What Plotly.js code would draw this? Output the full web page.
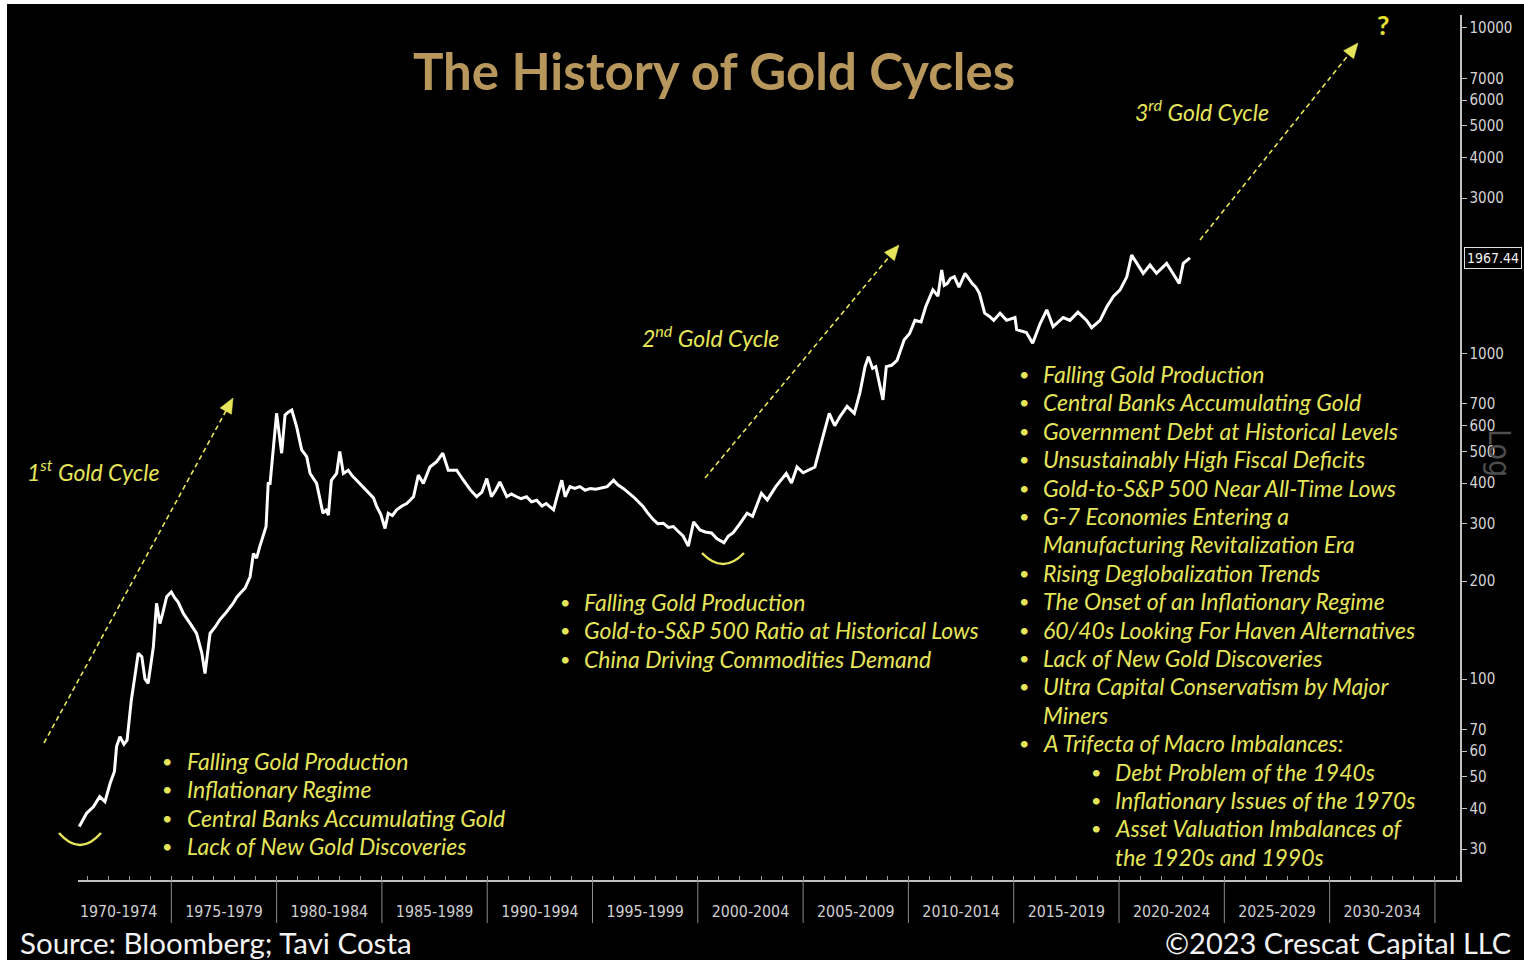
<!DOCTYPE html>
<html>
<head>
<meta charset="utf-8">
<script src="https://cdn.plot.ly/plotly-3.0.1.min.js"></script>
<style>
  html, body { margin: 0; padding: 0; background: #ffffff; width: 1524px; height: 960px; overflow: hidden; }
  #chart { position: absolute; left: 7px; top: 4px; width: 1517px; height: 956px; }
</style>
</head>
<body>
<div id="chart"></div>
<script>
// ---------------- DATA ----------------
const years = [
  1970.63, 1970.98, 1971.3, 1971.6, 1971.85, 1972.1, 1972.3, 1972.4, 1972.56, 1972.75, 1972.9,
  1973.1, 1973.3, 1973.43, 1973.6, 1973.75, 1973.9, 1974.15, 1974.3, 1974.46, 1974.6, 1974.78,
  1975.0, 1975.15, 1975.33, 1975.57, 1975.9, 1976.2, 1976.45, 1976.6, 1976.84, 1977.1, 1977.3,
  1977.6, 1977.94, 1978.1, 1978.26, 1978.5, 1978.74, 1978.9, 1979.05, 1979.2, 1979.5, 1979.6,
  1979.69, 1979.85, 1980.0, 1980.24, 1980.4, 1980.55, 1980.72, 1980.95, 1981.19, 1981.43, 1981.59,
  1981.9, 1982.2, 1982.35, 1982.46, 1982.6, 1982.85, 1983.0, 1983.17, 1983.4, 1983.6, 1983.8,
  1984.1, 1984.43, 1984.6, 1984.75, 1984.95, 1985.15, 1985.3, 1985.5, 1985.7, 1985.95, 1986.18,
  1986.5, 1986.73, 1986.97, 1987.28, 1987.6, 1987.89, 1988.15, 1988.55, 1988.87, 1989.2, 1989.5,
  1989.75, 1989.98, 1990.2, 1990.4, 1990.6, 1990.93, 1991.15, 1991.4, 1991.6, 1991.87, 1992.1,
  1992.35, 1992.6, 1992.8, 1993.15, 1993.35, 1993.54, 1993.7, 1993.93, 1994.15, 1994.4, 1994.65,
  1994.9, 1995.15, 1995.36, 1995.7, 1996.0, 1996.2, 1996.46, 1996.7, 1996.94, 1997.26, 1997.4,
  1997.6, 1997.9, 1998.1, 1998.36, 1998.6, 1998.84, 1999.05, 1999.3, 1999.55, 1999.8, 2000.1,
  2000.35, 2000.65, 2000.9, 2001.24, 2001.45, 2001.67, 2001.85, 2002.0, 2002.34, 2002.6, 2003.02,
  2003.3, 2003.7, 2004.2, 2004.45, 2004.71, 2005.0, 2005.23, 2005.56, 2005.9, 2006.24, 2006.5,
  2006.75, 2007.09, 2007.43, 2007.7, 2007.94, 2008.1, 2008.3, 2008.45, 2008.65, 2008.79, 2008.95,
  2009.2, 2009.46, 2009.8, 2010.05, 2010.31, 2010.6, 2010.82, 2011.16, 2011.4, 2011.58, 2011.7,
  2011.84, 2012.0, 2012.18, 2012.4, 2012.69, 2012.85, 2013.03, 2013.2, 2013.37, 2013.62, 2013.85,
  2014.05, 2014.35, 2014.66, 2015.06, 2015.14, 2015.6, 2015.9, 2016.25, 2016.57, 2016.87, 2017.35,
  2017.67, 2018.05, 2018.46, 2018.7, 2019.1, 2019.42, 2019.73, 2020.05, 2020.37, 2020.6, 2020.84,
  2021.15, 2021.47, 2021.78, 2022.26, 2022.57, 2022.86, 2023.05, 2023.37
];
const prices = [
  35.2, 38.7, 40.5, 43.5, 42, 47.9, 52, 62, 66.5, 63, 64.9,
  86, 105, 120, 117, 100, 97, 125.7, 170.9, 148, 160, 179,
  185, 178, 172, 159, 148, 138, 120, 104, 138, 145, 152,
  160, 171, 178, 183, 190, 206, 243, 235, 255, 294, 399,
  399, 517, 655, 494, 647, 660, 670, 596, 506, 482, 428,
  399, 323, 330, 319, 408, 428, 500, 428, 438, 420, 408,
  390, 372, 360, 339, 320, 290, 323, 318, 331, 340, 346,
  363, 423, 399, 448, 465, 494, 438, 438, 408, 381, 363,
  375, 413, 363, 380, 403, 363, 370, 363, 358, 363, 350,
  354, 340, 346, 331, 370, 408, 363, 390, 385, 390, 380,
  385, 383, 385, 390, 408, 395, 385, 375, 363, 346, 339,
  325, 308, 300, 301, 292, 294, 285, 275, 256, 304, 287,
  283, 281, 270, 262, 275, 281, 290, 300, 323, 316, 372,
  355, 390, 428, 400, 448, 430, 438, 448, 543, 655, 600,
  640, 688, 655, 760, 911, 978, 900, 911, 800, 720, 911,
  920, 953, 1102, 1150, 1264, 1250, 1392, 1568, 1500, 1805, 1620,
  1640, 1700, 1720, 1600, 1763, 1700, 1640, 1600, 1530, 1330, 1300,
  1264, 1330, 1264, 1290, 1184, 1160, 1075, 1234, 1362, 1210, 1290,
  1264, 1340, 1264, 1200, 1264, 1392, 1498, 1568, 1720, 2006, 1891,
  1763, 1870, 1763, 1891, 1763, 1640, 1891, 1967.44
];
const binStarts = [1970, 1975, 1980, 1985, 1990, 1995, 2000, 2005, 2010, 2015, 2020, 2025, 2030];
const binLabels = ["1970-1974", "1975-1979", "1980-1984", "1985-1989", "1990-1994", "1995-1999",
  "2000-2004", "2005-2009", "2010-2014", "2015-2019", "2020-2024", "2025-2029", "2030-2034"];
const yTickVals = [30, 40, 50, 60, 70, 100, 200, 300, 400, 500, 600, 700, 1000, 3000, 4000, 5000, 6000, 7000, 10000];

const titleText = "The History of Gold Cycles";
const cycleLabels = ["1<sup>st</sup> Gold Cycle", "2<sup>nd</sup> Gold Cycle", "3<sup>rd</sup> Gold Cycle"];
const cycle1Drivers = ["Falling Gold Production", "Inflationary Regime", "Central Banks Accumulating Gold", "Lack of New Gold Discoveries"];
const cycle2Drivers = ["Falling Gold Production", "Gold-to-S&P 500 Ratio at Historical Lows", "China Driving Commodities Demand"];
const cycle3Drivers = [
  "Falling Gold Production", "Central Banks Accumulating Gold", "Government Debt at Historical Levels",
  "Unsustainably High Fiscal Deficits", "Gold-to-S&P 500 Near All-Time Lows", "G-7 Economies Entering a",
  "Manufacturing Revitalization Era", "Rising Deglobalization Trends", "The Onset of an Inflationary Regime",
  "60/40s Looking For Haven Alternatives", "Lack of New Gold Discoveries", "Ultra Capital Conservatism by Major",
  "Miners", "A Trifecta of Macro Imbalances:", "Debt Problem of the 1940s", "Inflationary Issues of the 1970s",
  "Asset Valuation Imbalances of", "the 1920s and 1990s"
];
const cycle3Continuation = [6, 12, 17];   // wrapped lines (no bullet)
const cycle3SubItems = [14, 15, 16, 17];  // nested level
const sourceText = "Source: Bloomberg; Tavi Costa";
const copyrightText = "©2023 Crescat Capital LLC";

// ---------------- LAYOUT HELPERS ----------------
const DIV_X = 7, DIV_Y = 4, W = 1517, H = 956;
const ML = 71, MR = 64, MT = 11, MB = 80;
const PW = W - ML - MR, PH = H - MT - MB;
const px = x => (x - DIV_X - ML) / PW;
const py = y => 1 - (y - DIV_Y - MT) / PH;

const YEL = '#e6e55a';
const txtFont = { family: 'Lato, "Open Sans", sans-serif', size: 23, color: YEL, style: 'italic' };
const bulletFont = { family: 'Lato, "Open Sans", sans-serif', size: 18, color: YEL };

const annotations = [];
const shapes = [];

function addText(text, x, y, font, extra) {
  annotations.push(Object.assign({
    text: text, xref: 'paper', yref: 'paper', x: px(x), y: py(y),
    xanchor: 'left', yanchor: 'middle', showarrow: false, font: font
  }, extra || {}));
}

// bullet lists
const LS = 28.4;
cycle1Drivers.forEach((t, i) => {
  addText('•', 160, 761 + i * LS, bulletFont);
  addText(t, 185, 761 + i * LS, txtFont);
});
cycle2Drivers.forEach((t, i) => {
  addText('•', 558, 602 + i * LS, bulletFont);
  addText(t, 582, 602 + i * LS, txtFont);
});
cycle3Drivers.forEach((t, i) => {
  const sub = cycle3SubItems.includes(i);
  const bx = sub ? 1089 : 1017, tx = sub ? 1113 : 1041;
  const y = 374 + i * LS;
  if (!cycle3Continuation.includes(i)) addText('•', bx, y, bulletFont);
  addText(t, tx, y, txtFont);
});

// cycle labels
addText(cycleLabels[0], 25, 470, txtFont);
addText(cycleLabels[1], 640, 336, txtFont);
addText(cycleLabels[2], 1133, 111, txtFont);
addText('?', 1375, 24, { family: 'Lato, sans-serif', size: 27, color: '#e8e030', weight: 700 });

// dashed arrows
function dashedArrow(x0, y0, x1, y1) {
  const dx = x1 - x0, dy = y1 - y0, L = Math.hypot(dx, dy);
  const ux = dx / L, uy = dy / L, nx = -uy, ny = ux;
  const hl = 15, hw = 6.5;
  const bx = x1 - ux * hl, by = y1 - uy * hl;
  shapes.push({ type: 'line', xref: 'paper', yref: 'paper',
    x0: px(x0), y0: py(y0), x1: px(bx + ux * 2), y1: py(by + uy * 2),
    line: { color: YEL, width: 1.6, dash: '5px,3.5px' } });
  const p = [[x1, y1], [bx + nx * hw, by + ny * hw], [bx - nx * hw, by - ny * hw]];
  shapes.push({ type: 'path', xref: 'paper', yref: 'paper',
    path: 'M' + p.map(q => px(q[0]) + ',' + py(q[1])).join(' L') + ' Z',
    fillcolor: YEL, line: { color: YEL, width: 0.5 } });
}
dashedArrow(44, 743, 233, 398);
dashedArrow(705, 478, 899, 245);
dashedArrow(1200, 240, 1358, 43);

// smile arcs
function smile(xl, xr, ytop, ybot) {
  const xc = (xl + xr) / 2, yc = 2 * ybot - ytop;
  shapes.push({ type: 'path', xref: 'paper', yref: 'paper',
    path: 'M' + px(xl) + ',' + py(ytop) + ' Q' + px(xc) + ',' + py(yc) + ' ' + px(xr) + ',' + py(ytop),
    line: { color: YEL, width: 2.5 } });
}
smile(59, 101, 833, 845);
smile(702, 744, 553, 564);

// bin separators below x axis
binStarts.slice(1).concat([binStarts[binStarts.length - 1] + 5]).forEach(b => {
  shapes.push({ type: 'line', xref: 'x', yref: 'paper', x0: b, x1: b, y0: 0, y1: py(923),
    line: { color: '#8a8a8a', width: 1 } });
});

// last value tag
const lastVal = prices[prices.length - 1];
annotations.push({
  text: lastVal.toFixed(2), xref: 'paper', yref: 'y', x: px(1464), y: Math.log10(lastVal),
  xanchor: 'left', yanchor: 'middle', showarrow: false,
  font: { family: '"DejaVu Sans Condensed", "DejaVu Sans", sans-serif', size: 14, color: '#f0f0f0' },
  bgcolor: '#000', bordercolor: '#e0e0e0', borderwidth: 1, borderpad: 2
});

// "Log" label
addText('Log', 1500, 453, { family: '"DejaVu Sans Condensed", sans-serif', size: 30, color: '#4e4e4e' },
  { xanchor: 'center', textangle: 90 });

// footer
addText(sourceText, 18, 942, { family: 'Lato, "Open Sans", sans-serif', size: 29.5, color: '#f2f2f2' });
addText(copyrightText, 1513, 942, { family: 'Lato, "Open Sans", sans-serif', size: 29, color: '#f2f2f2' },
  { xanchor: 'right' });

const binCenters = binStarts.map(b => b + 2.5);

const trace = {
  x: years, y: prices, type: 'scatter', mode: 'lines',
  line: { color: '#ffffff', width: 3 }, hoverinfo: 'skip', showlegend: false
};

const layout = {
  width: W, height: H,
  paper_bgcolor: '#000', plot_bgcolor: '#000',
  margin: { l: ML, r: MR, t: MT, b: MB },
  showlegend: false,
  title: {
    text: titleText, xref: 'paper', x: px(714), xanchor: 'center',
    yref: 'container', y: 1 - (72 - DIV_Y) / H, yanchor: 'middle',
    font: { family: 'Lato, sans-serif', size: 51, color: '#b8975c', weight: 700 }
  },
  xaxis: {
    range: [1970.57, 2036.19], showgrid: false, zeroline: false,
    showline: true, linecolor: '#c0c0c0', linewidth: 1.5,
    tickmode: 'array', tickvals: binCenters, ticktext: binLabels, ticks: '',
    ticklabelstandoff: 17,
    tickfont: { family: '"DejaVu Sans Condensed", "DejaVu Sans", sans-serif', size: 15.8, color: '#cfcfcf' },
    minor: { tickmode: 'linear', tick0: 1970, dtick: 1, ticks: 'inside', ticklen: 4, tickcolor: '#9a9a9a', showgrid: false }
  },
  yaxis: {
    type: 'log', side: 'right', range: [1.3825, 4.0399],
    showgrid: false, zeroline: false, showline: true, linecolor: '#c0c0c0', linewidth: 1.5,
    tickmode: 'array', tickvals: yTickVals, ticktext: yTickVals.map(String),
    ticks: 'outside', ticklen: 5, tickcolor: '#c0c0c0',
    tickfont: { family: '"DejaVu Sans Condensed", "DejaVu Sans", sans-serif', size: 15, color: '#d4d4d4' }
  },
  annotations: annotations,
  shapes: shapes
};

Plotly.newPlot('chart', [trace], layout, { displayModeBar: false, staticPlot: true });
</script>
</body>
</html>
